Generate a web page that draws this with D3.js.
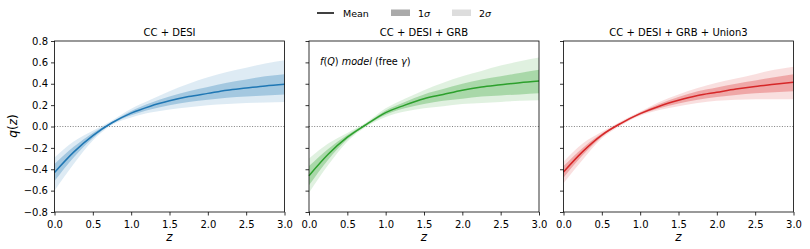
<!DOCTYPE html>
<html lang="en">
<head>
<meta charset="UTF-8">
<script src="https://cdn.jsdelivr.net/npm/d3@7"></script>
<style>
  body { margin: 0; background: #fff; }
  text { font-family: "DejaVu Sans", sans-serif; fill: #000; }
</style>
</head>
<body>
<div id="chart"></div>
<script>
// redshift grid shared by every panel
const zGrid = [0, 0.25, 0.5, 0.75, 1.0, 1.25, 1.5, 1.75, 2.0, 2.25, 2.5, 2.75, 3.0];

const panelTitles = ["CC + DESI", "CC + DESI + GRB", "CC + DESI + GRB + Union3"];
const panelColors = ["#1f77b4", "#2ca02c", "#d62728"];

// CC + DESI
const mean1 = [-0.43, -0.24, -0.085, 0.035, 0.125, 0.19, 0.24, 0.28, 0.31, 0.34, 0.36, 0.38, 0.395];
const lo1s1 = [-0.51, -0.29, -0.11, 0.025, 0.105, 0.16, 0.20, 0.23, 0.25, 0.27, 0.28, 0.29, 0.30];
const hi1s1 = [-0.35, -0.19, -0.06, 0.045, 0.145, 0.22, 0.28, 0.33, 0.37, 0.41, 0.44, 0.47, 0.49];
const lo2s1 = [-0.60, -0.35, -0.13, 0.015, 0.085, 0.13, 0.16, 0.18, 0.20, 0.21, 0.22, 0.225, 0.23];
const hi2s1 = [-0.29, -0.14, -0.04, 0.055, 0.165, 0.25, 0.33, 0.40, 0.46, 0.51, 0.55, 0.59, 0.62];

// CC + DESI + GRB
const mean2 = [-0.46, -0.26, -0.10, 0.02, 0.13, 0.20, 0.26, 0.30, 0.34, 0.37, 0.39, 0.41, 0.425];
const lo1s2 = [-0.55, -0.31, -0.12, 0.01, 0.11, 0.17, 0.21, 0.24, 0.26, 0.28, 0.29, 0.30, 0.31];
const hi1s2 = [-0.37, -0.21, -0.08, 0.03, 0.15, 0.23, 0.30, 0.35, 0.40, 0.44, 0.47, 0.50, 0.53];
const lo2s2 = [-0.62, -0.36, -0.14, 0.00, 0.09, 0.14, 0.17, 0.19, 0.21, 0.22, 0.23, 0.24, 0.245];
const hi2s2 = [-0.30, -0.16, -0.06, 0.04, 0.17, 0.26, 0.34, 0.41, 0.47, 0.52, 0.57, 0.61, 0.645];

// CC + DESI + GRB + Union3
const mean3 = [-0.425, -0.235, -0.08, 0.03, 0.12, 0.19, 0.245, 0.29, 0.32, 0.35, 0.375, 0.395, 0.415];
const lo1s3 = [-0.48, -0.27, -0.095, 0.02, 0.11, 0.17, 0.215, 0.25, 0.275, 0.295, 0.31, 0.32, 0.33];
const hi1s3 = [-0.37, -0.20, -0.065, 0.04, 0.13, 0.21, 0.275, 0.33, 0.365, 0.40, 0.43, 0.46, 0.49];
const lo2s3 = [-0.53, -0.31, -0.11, 0.01, 0.10, 0.155, 0.19, 0.22, 0.24, 0.25, 0.255, 0.255, 0.255];
const hi2s3 = [-0.33, -0.16, -0.05, 0.05, 0.14, 0.23, 0.30, 0.36, 0.41, 0.45, 0.49, 0.53, 0.56];

const xTicks = [0, 0.5, 1.0, 1.5, 2.0, 2.5, 3.0];
const yTicks = [-0.8, -0.6, -0.4, -0.2, 0.0, 0.2, 0.4, 0.6, 0.8];

const panels = [
  {mean: mean1, lo1: lo1s1, hi1: hi1s1, lo2: lo2s1, hi2: hi2s1},
  {mean: mean2, lo1: lo1s2, hi1: hi1s2, lo2: lo2s2, hi2: hi2s2},
  {mean: mean3, lo1: lo1s3, hi1: hi1s3, lo2: lo2s3, hi2: hi2s3}
];

const W = 810, H = 249;
const panelLeft = [54.5, 309, 563.5];
const panelW = 230, plotTop = 41, plotBottom = 212;

const svg = d3.select("#chart").append("svg")
  .attr("width", W).attr("height", H);

const y = d3.scaleLinear().domain([-0.8, 0.8]).range([plotBottom, plotTop]);
const fmt = d3.format(".1f");

panels.forEach(function(p, i) {
  const x = d3.scaleLinear().domain([0, 3]).range([panelLeft[i], panelLeft[i] + panelW]);
  const g = svg.append("g");
  const pts = zGrid.map(function(z, k) {
    return {z: z, m: p.mean[k], lo1: p.lo1[k], hi1: p.hi1[k], lo2: p.lo2[k], hi2: p.hi2[k]};
  });

  const band = function(lo, hi) {
    return d3.area().curve(d3.curveMonotoneX)
      .x(function(d) { return x(d.z); })
      .y0(function(d) { return y(d[lo]); })
      .y1(function(d) { return y(d[hi]); });
  };

  g.append("path").datum(pts).attr("d", band("lo2", "hi2"))
    .attr("fill", panelColors[i]).attr("fill-opacity", 0.15);
  g.append("path").datum(pts).attr("d", band("lo1", "hi1"))
    .attr("fill", panelColors[i]).attr("fill-opacity", 0.3);

  // zero line
  g.append("line")
    .attr("x1", x(0)).attr("x2", x(3))
    .attr("y1", y(0)).attr("y2", y(0))
    .attr("stroke", "#808080").attr("stroke-width", 1)
    .attr("stroke-dasharray", "1,1.6");

  g.append("path").datum(pts)
    .attr("d", d3.line().curve(d3.curveMonotoneX)
      .x(function(d) { return x(d.z); })
      .y(function(d) { return y(d.m); }))
    .attr("fill", "none").attr("stroke", panelColors[i]).attr("stroke-width", 1.5);

  // axes
  const xAxis = g.append("g").attr("transform", `translate(0,${plotBottom})`)
    .call(d3.axisBottom(x).tickValues(xTicks).tickFormat(fmt).tickSize(3.5).tickSizeOuter(0));
  const yAxis = g.append("g").attr("transform", `translate(${panelLeft[i]},0)`)
    .call(d3.axisLeft(y).tickValues(yTicks).tickFormat(i === 0 ? fmt : "").tickSize(3.5).tickSizeOuter(0));
  [xAxis, yAxis].forEach(function(a) {
    a.select(".domain").remove();
    a.selectAll("line").attr("stroke", "#000").attr("stroke-width", 0.8);
    a.selectAll("text").attr("font-size", 10).attr("font-family", "DejaVu Sans").attr("fill", "#000");
  });
  xAxis.selectAll("text").attr("dy", "0.95em");

  g.append("rect")
    .attr("x", x(0)).attr("y", plotTop)
    .attr("width", panelW).attr("height", plotBottom - plotTop)
    .attr("fill", "none").attr("stroke", "#000").attr("stroke-width", 0.8);

  g.append("text")
    .attr("x", x(1.5)).attr("y", 36)
    .attr("text-anchor", "middle").attr("font-size", 10)
    .text(panelTitles[i]);

  g.append("text")
    .attr("x", x(1.5)).attr("y", 241)
    .attr("text-anchor", "middle").attr("font-size", 12)
    .attr("font-style", "italic")
    .text("z");
});

// y label
svg.append("text")
  .attr("transform", "translate(17,126) rotate(-90)")
  .attr("text-anchor", "middle").attr("font-size", 12)
  .html('<tspan font-style="italic">q</tspan>(<tspan font-style="italic">z</tspan>)');

// annotation in middle panel
svg.append("text")
  .attr("x", 320).attr("y", 64.5).attr("font-size", 9.7)
  .html('<tspan font-style="italic">f</tspan>(<tspan font-style="italic">Q</tspan>) <tspan font-style="italic">model</tspan> (free <tspan font-style="italic">γ</tspan>)');

// legend
const leg = svg.append("g").attr("font-size", 9.5);
leg.append("line").attr("x1", 317).attr("x2", 334).attr("y1", 13).attr("y2", 13)
  .attr("stroke", "#000").attr("stroke-width", 1.5);
leg.append("text").attr("x", 343).attr("y", 16.5).text("Mean");
leg.append("rect").attr("x", 391).attr("y", 9.5).attr("width", 19).attr("height", 6.5).attr("fill", "#aaaaaa");
leg.append("text").attr("x", 418).attr("y", 16.5).html('1<tspan font-style="italic">σ</tspan>');
leg.append("rect").attr("x", 452).attr("y", 9.5).attr("width", 19).attr("height", 6.5).attr("fill", "#dddddd");
leg.append("text").attr("x", 479).attr("y", 16.5).html('2<tspan font-style="italic">σ</tspan>');
</script>
</body>
</html>
